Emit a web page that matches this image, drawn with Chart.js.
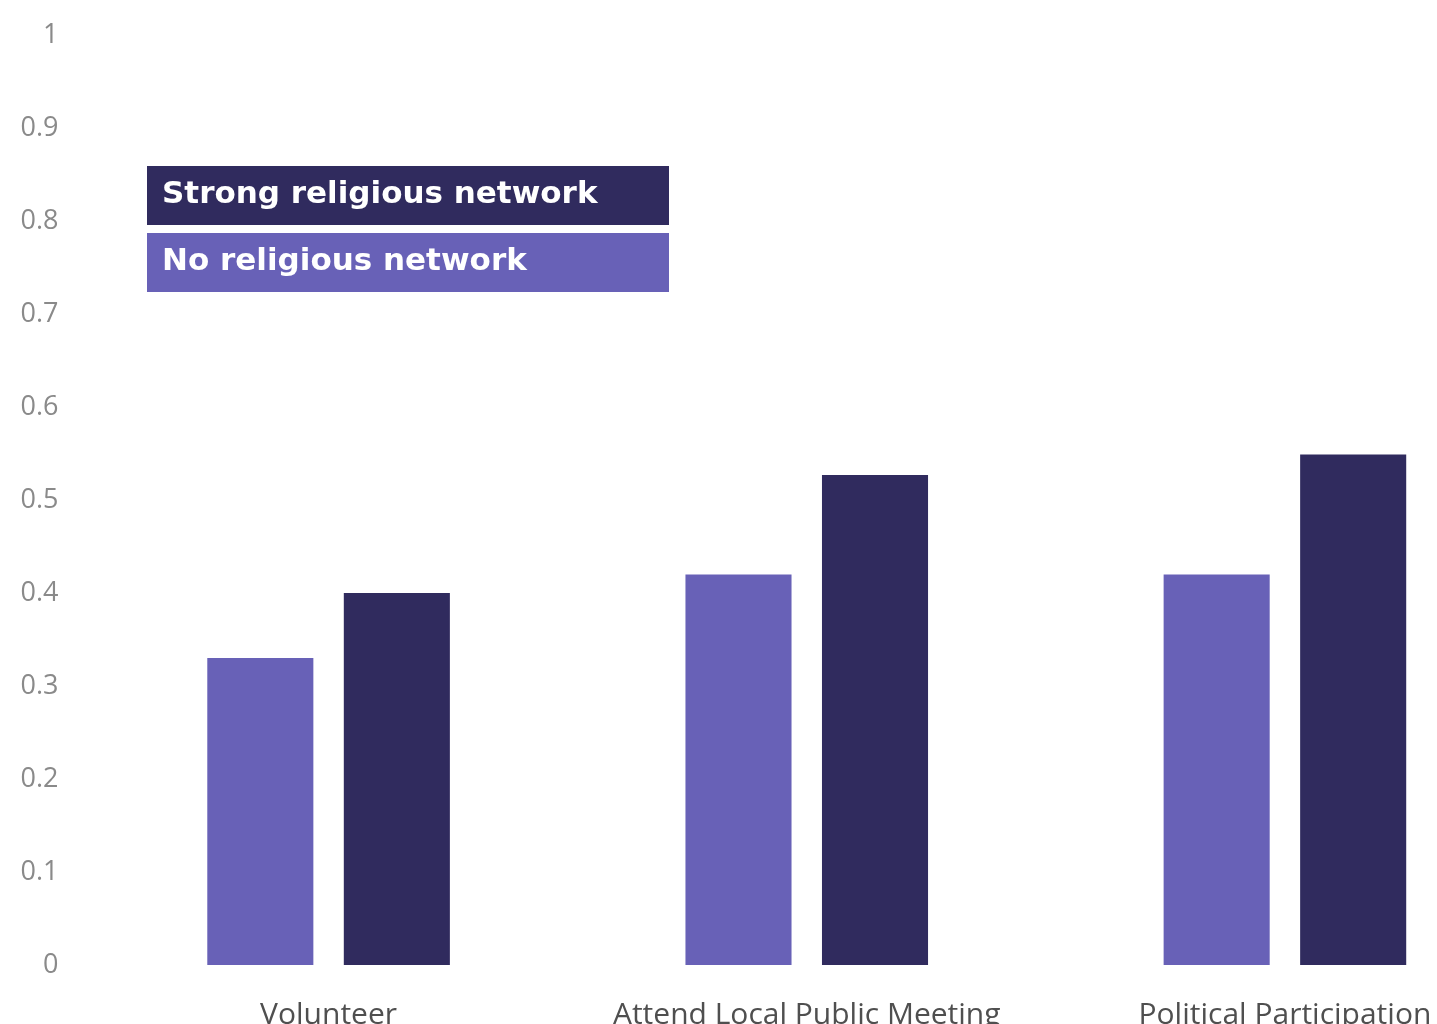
<!DOCTYPE html>
<html>
<head>
<meta charset="utf-8">
<script src="https://cdn.jsdelivr.net/npm/chart.js@4"></script>
<style>
    html, body { margin: 0; padding: 0; background: #fff; overflow: hidden; }
    #wrap { position: relative; width: 1524px; height: 1024px; }
</style>
</head>
<body>
<div id="wrap"><canvas id="chartNetwork"></canvas></div>
<script>
// Bars
const categories = ["Volunteer", "Attend Local Public Meeting", "Political Participation"];
const noNetwork = [0.33, 0.42, 0.42];
const strongNetwork = [0.40, 0.527, 0.549];
const yTicks = [0, 0.1, 0.2, 0.3, 0.4, 0.5, 0.6, 0.7, 0.8, 0.9, 1];

const lightPurple = "#6861b7";
const darkPurple = "#302b5e";

// legend drawn as two filled boxes, strong on top
const boxLegend = {
    id: "boxLegend",
    afterDraw: (chart) => {
        const ctx = chart.ctx;
        const rows = [
            { text: "Strong religious network", color: darkPurple, y: 166 },
            { text: "No religious network", color: lightPurple, y: 233 },
        ];
        ctx.save();
        rows.forEach((r) => {
            ctx.fillStyle = r.color;
            ctx.fillRect(147, r.y, 522, 59);
            ctx.fillStyle = "#ffffff";
            ctx.font = "bold 31px 'DejaVu Sans'";
            ctx.textBaseline = "middle";
            ctx.fillText(r.text, 162, r.y + 29);
        });
        ctx.restore();
    },
};

const config = {
    type: "bar",
    data: {
        labels: categories,
        datasets: [
            {
                label: "No religious network",
                data: noNetwork,
                backgroundColor: lightPurple,
                categoryPercentage: 0.571,
                barPercentage: 0.777,
            },
            {
                label: "Strong religious network",
                data: strongNetwork,
                backgroundColor: darkPurple,
                categoryPercentage: 0.571,
                barPercentage: 0.777,
            },
        ],
    },
    options: {
        responsive: true,
        maintainAspectRatio: false,
        animation: false,
        layout: { padding: { top: 35, right: 0, left: 0, bottom: 0 } },
        plugins: {
            legend: { display: false },
            tooltip: { enabled: false },
        },
        scales: {
            x: {
                grid: { display: false },
                border: { display: false },
                ticks: {
                    color: "#4f4f4f",
                    font: { family: "'Open Sans'", size: 30 },
                    padding: 24,
                    maxRotation: 0,
                    autoSkip: false,
                },
                afterFit: (scale) => {
                    scale.height = 59;
                    scale.paddingLeft = 0;
                    scale.paddingRight = 0;
                },
            },
            y: {
                min: 0,
                max: 1,
                grid: { display: false },
                border: { display: false },
                afterBuildTicks: (scale) => {
                    scale.ticks = yTicks.map((v) => ({ value: v }));
                },
                ticks: {
                    color: "#8a8a8a",
                    font: { family: "'Open Sans'", size: 27 },
                    padding: 23,
                    callback: (v) => String(Math.round(v * 10) / 10),
                },
                afterFit: (scale) => {
                    scale.width = 89.5;
                    scale.paddingTop = 0;
                    scale.paddingBottom = 0;
                },
            },
        },
    },
    plugins: [boxLegend],
};

new Chart(document.getElementById("chartNetwork"), config);
</script>
</body>
</html>
